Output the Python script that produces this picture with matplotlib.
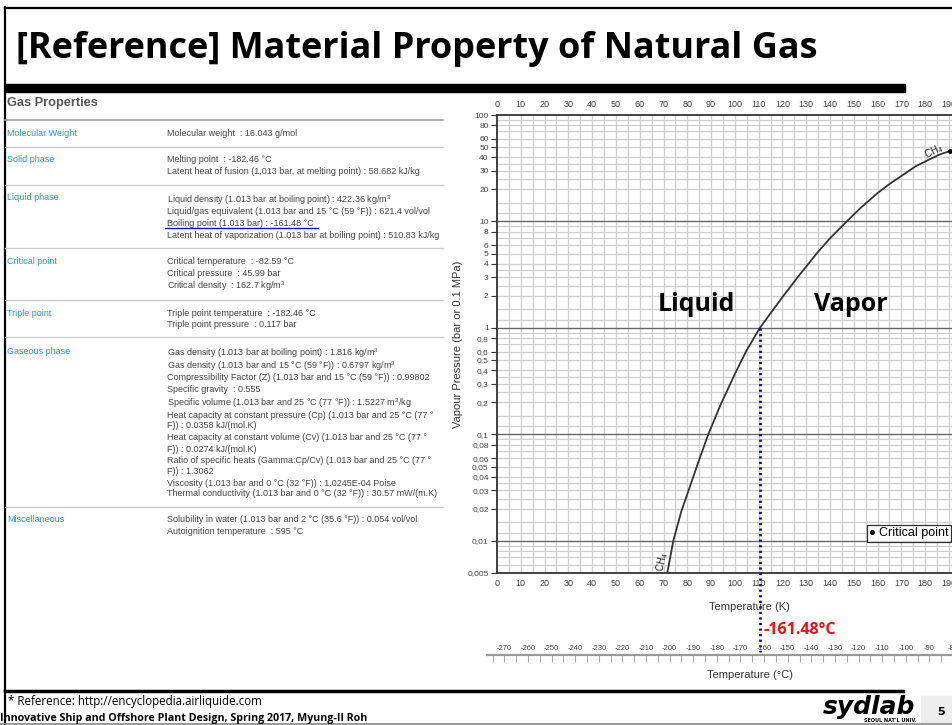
import numpy as np
import matplotlib
matplotlib.use('agg')
import matplotlib.pyplot as plt
from matplotlib.lines import Line2D
from matplotlib.patches import Rectangle

plt.rcParams['font.family'] = ['Liberation Sans', 'DejaVu Sans']
plt.rcParams['mathtext.fontset'] = 'custom'
plt.rcParams['mathtext.rm'] = 'Liberation Sans'
plt.rcParams['mathtext.it'] = 'Liberation Sans'

W, H = 953, 725

# CH4 vapour pressure curve (K, bar)
temp_k = [71.6, 74.1, 77.5, 81.1, 85.0, 88.8, 94.0, 100.0, 105.0, 110.5, 114.0,
          120.0, 127.4, 135.0, 140.0, 147.0, 153.0, 160.0, 165.0, 170.8, 176.0,
          182.0, 186.0, 190.6]
press_bar = [0.005, 0.01, 0.019, 0.0324, 0.058, 0.1, 0.19, 0.37, 0.62, 1.0, 1.28,
             1.95, 3.2, 5.2, 6.95, 10.0, 13.5, 18.5, 22.5, 27.5, 33.0,
             38.5, 42.5, 46.0]
crit_t, crit_p = 190.6, 46.0
boil_k = 110.6
boil_label = "-161.48\u00b0C"

y_ticks = [100, 80, 60, 50, 40, 30, 20, 10, 8, 6, 5, 4, 3, 2, 1,
           0.8, 0.6, 0.5, 0.4, 0.3, 0.2, 0.1, 0.08, 0.06, 0.05, 0.04,
           0.03, 0.02, 0.01, 0.005]
y_labels = [("%g" % v).replace('.', ',') for v in y_ticks]
x_ticks = list(range(0, 200, 10))
c_ticks = list(range(-270, -70, 10))

# property table
categories = ["Molecular Weight", "Solid phase", "Liquid phase", "Critical point",
              "Triple point", "Gaseous phase", "Miscellaneous"]
cat_y = [133, 160, 198, 261, 313, 351, 520]
sep_y = [147, 185, 248, 300, 337, 507]
rows = [
    (133, "Molecular weight  : 16.043 g/mol"),
    (160, "Melting point  : -182.46 \u00b0C"),
    (171.5, "Latent heat of fusion (1,013 bar, at melting point) : 58.682 kJ/kg"),
    (200, "Liquid density (1.013 bar at boiling point) : 422.36 kg/m$^3$"),
    (212, "Liquid/gas equivalent (1.013 bar and 15 \u00b0C (59 \u00b0F)) : 621.4 vol/vol"),
    (224, "Boiling point (1.013 bar) : -161.48 \u00b0C"),
    (235.5, "Latent heat of vaporization (1.013 bar at boiling point) : 510.83 kJ/kg"),
    (261.5, "Critical temperature  : -82.59 \u00b0C"),
    (273, "Critical pressure  : 45.99 bar"),
    (286, "Critical density  : 162.7 kg/m$^3$"),
    (313, "Triple point temperature  : -182.46 \u00b0C"),
    (324.5, "Triple point pressure  : 0.117 bar"),
    (353, "Gas density (1.013 bar at boiling point) : 1.816 kg/m$^3$"),
    (366, "Gas density (1.013 bar and 15 \u00b0C (59 \u00b0F)) : 0.6797 kg/m$^3$"),
    (378, "Compressibility Factor (Z) (1.013 bar and 15 \u00b0C (59 \u00b0F)) : 0.99802"),
    (389.5, "Specific gravity  : 0.555"),
    (403, "Specific volume (1.013 bar and 25 \u00b0C (77 \u00b0F)) : 1.5227 m$^3$/kg"),
    (415, "Heat capacity at constant pressure (Cp) (1.013 bar and 25 \u00b0C (77 \u00b0"),
    (426, "F)) : 0.0358 kJ/(mol.K)"),
    (437.5, "Heat capacity at constant volume (Cv) (1.013 bar and 25 \u00b0C (77 \u00b0"),
    (449, "F)) : 0.0274 kJ/(mol.K)"),
    (460, "Ratio of specific heats (Gamma:Cp/Cv) (1.013 bar and 25 \u00b0C (77 \u00b0"),
    (471.5, "F)) : 1.3062"),
    (483, "Viscosity (1.013 bar and 0 \u00b0C (32 \u00b0F)) : 1.0245E-04 Poise"),
    (494, "Thermal conductivity (1.013 bar and 0 \u00b0C (32 \u00b0F)) : 30.57 mW/(m.K)"),
    (520, "Solubility in water (1.013 bar and 2 \u00b0C (35.6 \u00b0F)) : 0.054 vol/vol"),
    (531.5, "Autoignition temperature  : 595 \u00b0C"),
]


def fx(x):
    return x / W


def fy(y):
    return 1 - y / H


def hline(fig, x0, x1, y, **kw):
    fig.add_artist(Line2D([fx(x0), fx(x1)], [fy(y), fy(y)], transform=fig.transFigure, **kw))


fig = plt.figure(figsize=(W / 100, H / 100), dpi=100)

# ---- slide frame ----
hline(fig, 5, 953, 7.5, color='black', lw=1.6)
fig.add_artist(Line2D([fx(5.5), fx(5.5)], [fy(7), fy(725)], transform=fig.transFigure,
                      color='black', lw=1.6))
fig.add_artist(Rectangle((fx(5), fy(92)), fx(905) - fx(5), fy(84) - fy(92),
                         transform=fig.transFigure, color='black'))
fig.text(fx(16), fy(49), "[Reference] Material Property of Natural Gas",
         family=['Open Sans', 'DejaVu Sans'], fontsize=25.9, weight='bold', va='center')
hline(fig, 5, 903, 691, color='black', lw=2.5)
fig.text(fx(8), fy(701), "* Reference: http://encyclopedia.airliquide.com",
         family=['Open Sans', 'DejaVu Sans'], fontsize=8.3, va='center')
fig.text(fx(0), fy(719), "Innovative Ship and Offshore Plant Design, Spring 2017, Myung-Il Roh",
         family=['Open Sans', 'DejaVu Sans'], fontsize=7.7, weight='bold', va='center')
hline(fig, 0, 953, 724, color='#888888', lw=1.2)
fig.add_artist(Rectangle((fx(921), fy(725)), fx(953) - fx(921), fy(696) - fy(725),
                         transform=fig.transFigure, color='#eeeeee'))
fig.text(fx(941), fy(712), "5", fontsize=8, weight='bold', ha='center', va='center',
         family=['DejaVu Sans'])
fig.text(fx(869), fy(707), "sydlab", family=['DejaVu Sans'], fontsize=18, weight='heavy',
         style='italic', ha='center', va='center')
fig.text(fx(917), fy(721), "SEOUL NAT'L UNIV.", family=['DejaVu Sans'], fontsize=3.5,
         weight='bold', ha='right', va='center')

# ---- property table ----
fig.text(fx(7), fy(103), "Gas Properties", fontsize=9.2, weight='bold', color='#555555',
         va='center')
hline(fig, 5, 443, 119.5, color='#9a9a9a', lw=1.1)
for y in sep_y:
    hline(fig, 5, 443, y, color='#cccccc', lw=1)
for name, y in zip(categories, cat_y):
    fig.text(fx(7), fy(y), name, fontsize=6.5, color='#1b9ae0', va='center')
for y, txt in rows:
    fig.text(fx(167), fy(y), txt, fontsize=6.5, color='#444444', va='center')
hline(fig, 165, 318, 227.5, color='#0000cc', lw=1)

# ---- vapour pressure chart ----
x_right = 191.7
ax = fig.add_axes([fx(497), fy(573), fx(953) - fx(497), fy(115) - fy(573)])
ax.set_yscale('log')
ax.set_xlim(0, x_right)
ax.set_ylim(0.005, 100)

for xv in np.arange(5, x_right, 5):
    ax.axvline(xv, color='#cfcfcf', lw=0.9, zorder=0)
minor_steps = [1.2, 1.5, 2, 2.5, 3, 3.5, 4, 5, 6, 7, 8, 9]
for dec in [0.001, 0.01, 0.1, 1, 10]:
    for m in minor_steps:
        v = dec * m
        if 0.005 < v < 100:
            ax.axhline(v, color='#cfcfcf', lw=0.9, zorder=0)
for v in [0.01, 0.1, 1, 10]:
    ax.axhline(v, color='#666666', lw=1.0, zorder=1)

ax.plot(temp_k, press_bar, color='#333333', lw=1.3, zorder=3)
ax.plot([crit_t], [crit_p], 'o', color='black', ms=2.5, zorder=4, clip_on=False,
        label='Critical point')
ax.plot([boil_k, boil_k], [1, 9.0e-4], color='#0000ee', lw=2, ls=(0, (0.8, 1.2)),
        zorder=5, clip_on=False)

ax.text(183.5, 45.0, "CH$_4$", fontsize=7, rotation=26, ha='center', va='center',
        color='#222222')
ax.text(69.6, 0.0064, "CH$_4$", fontsize=7, rotation=78, ha='center', va='center',
        color='#222222')
ax.text(84.0, 1.65, "Liquid", family=['Open Sans', 'DejaVu Sans'], fontsize=18,
        weight='bold', ha='center', va='center')
ax.text(148.8, 1.65, "Vapor", family=['Open Sans', 'DejaVu Sans'], fontsize=18,
        weight='bold', ha='center', va='center')

ax.spines['right'].set_visible(False)
for s in ['left', 'top', 'bottom']:
    ax.spines[s].set_color('#333333')
    ax.spines[s].set_linewidth(1.3)

ax.set_yticks(y_ticks, labels=y_labels)
ax.minorticks_off()
ax.tick_params(axis='y', labelsize=6, colors='#333333', length=4, width=0.8, pad=2,
               labelcolor='#444444')
ax.set_xticks(x_ticks, labels=[str(v) for v in x_ticks])
ax.tick_params(axis='x', labelsize=6.5, labelcolor='#444444', length=0, pad=4,
               top=False, bottom=False, labeltop=True, labelbottom=True)
ax.set_ylabel("Vapour Pressure (bar or 0.1 MPa)", fontsize=8, color='#333333', labelpad=3)

leg = ax.legend(loc='lower right', bbox_to_anchor=(0.996, 0.068), fontsize=9,
                frameon=True, fancybox=False, edgecolor='black', handlelength=0.4,
                handletextpad=0.4, borderpad=0.2, borderaxespad=0)
leg.get_frame().set_linewidth(0.9)

fig.text(fx(749), fy(607), "Temperature (K)", fontsize=8, color='#333333',
         ha='center', va='center')
fig.text(fx(763), fy(630), boil_label, family=['Open Sans', 'DejaVu Sans'], fontsize=11.5,
         weight='bold', color='#ee1111', va='center')

# ---- Celsius scale ----
left_c = (487 - 497) / (456 / x_right) - 273.15
ax2 = fig.add_axes([fx(487), fy(655), fx(953) - fx(487), 0.0001])
ax2.set_xlim(left_c, x_right - 273.15)
ax2.set_yticks([])
for s in ['left', 'right', 'top']:
    ax2.spines[s].set_visible(False)
ax2.spines['bottom'].set_color('#999999')
ax2.spines['bottom'].set_linewidth(1.6)
ax2.patch.set_visible(False)
ax2.set_xticks(c_ticks, labels=[str(v) for v in c_ticks])
ax2.set_xticks(np.arange(-275, -80, 5), minor=True)
ax2.tick_params(axis='x', which='both', bottom=True, top=False, labelbottom=False,
                labeltop=True, direction='out', length=5, width=0.8, color='#aaaaaa',
                labelsize=5.5, labelcolor='#444444', pad=-3)
fig.text(fx(750), fy(675), "Temperature (\u00b0C)", fontsize=8, color='#333333',
         ha='center', va='center')

fig.savefig("out.png", dpi=100)
